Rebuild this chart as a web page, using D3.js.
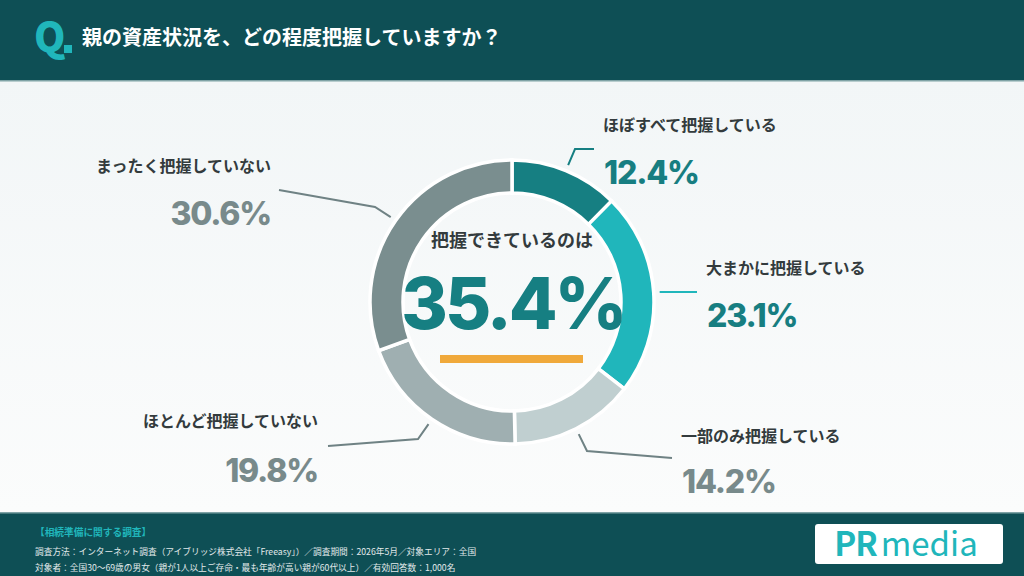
<!DOCTYPE html>
<html>
<head>
<meta charset="utf-8">
<script src="https://cdn.jsdelivr.net/npm/d3@7"></script>
<style>
  html, body { margin:0; padding:0; background:#0e4f55; }
  svg { display:block; }
  text { font-family: "Noto Sans CJK JP", "Noto Sans", sans-serif; }
  .num { font-family: "Inter", "Noto Sans", sans-serif; font-weight:800; }
</style>
</head>
<body>
<svg id="chart" width="1024" height="576"></svg>
<script>
// data
var categories = ["ほぼすべて把握している", "大まかに把握している", "一部のみ把握している", "ほとんど把握していない", "まったく把握していない"]
var values = [12.4, 23.1, 14.2, 19.8, 30.6]
var sliceColors = ["#167f82", "#20b6bb", "#c0cfd0", "#9fafb1", "#7a8e8f"]
var valueColors = ["#177e81", "#177e81", "#788a8b", "#788a8b", "#788a8b"]
var centerLabel = "把握できているのは"
var centerValue = 35.4
var title = "親の資産状況を、どの程度把握していますか？"
var footerLines = [
  "【相続準備に関する調査】",
  "調査方法：インターネット調査（アイブリッジ株式会社「Freeasy」）／調査期間：2026年5月／対象エリア：全国",
  "対象者：全国30〜69歳の男女（親が1人以上ご存命・最も年齢が高い親が60代以上）／有効回答数：1,000名"
]

// label layout: elbow + end of leader, text anchor point
var labelLayout = [
  {elbow:[575,149], end:[594,149], tx:603, ty:125, vy:184, anchor:"start"},
  {elbow:[680,292], end:[697,292], tx:706, ty:268, vy:327, anchor:"start"},
  {elbow:[587,451], end:[672,458], tx:681, ty:436, vy:493, anchor:"start"},
  {elbow:[418,439], end:[328,446], tx:318, ty:421, vy:482, anchor:"end"},
  {elbow:[375,207], end:[279,190], tx:271, ty:166, vy:225, anchor:"end"}
]

var width = 1024, height = 576
var cx = 512, cy = 302
var rOuter = 142, rInner = 109

var svg = d3.select("#chart")

var defs = svg.append("defs")
var grad = defs.append("linearGradient").attr("id","bg").attr("x1",0).attr("y1",0).attr("x2",0).attr("y2",1)
grad.append("stop").attr("offset","0%").attr("stop-color","#f2f6f7")
grad.append("stop").attr("offset","100%").attr("stop-color","#fbfcfc")

// header / body / footer
svg.append("rect").attr("x",0).attr("y",0).attr("width",width).attr("height",80).attr("fill","#0e4f55")
svg.append("rect").attr("x",0).attr("y",80).attr("width",width).attr("height",433).attr("fill","url(#bg)")
svg.append("rect").attr("x",0).attr("y",80).attr("width",width).attr("height",1.5).attr("fill","#7fa3a6")
svg.append("rect").attr("x",0).attr("y",513).attr("width",width).attr("height",63).attr("fill","#0e4f55")
svg.append("rect").attr("x",0).attr("y",512).attr("width",width).attr("height",1.5).attr("fill","#7fa3a6")

svg.append("text")
    .attr("x",34).attr("y",52)
    .attr("font-family","Inter, sans-serif")
    .attr("font-weight",800)
    .attr("font-size",40)
    .attr("fill","#20b6bb")
    .text("Q")
svg.append("rect").attr("x",64).attr("y",45).attr("width",8).attr("height",8).attr("fill","#20b6bb")
svg.append("text")
    .attr("x",82).attr("y",45)
    .attr("font-weight",700)
    .attr("font-size",20)
    .attr("fill","#ffffff")
    .text(title)

// donut
var pie = d3.pie().sort(null).value(function(d){ return d })
var arcs = pie(values)
var arc = d3.arc().innerRadius(rInner).outerRadius(rOuter)

var g = svg.append("g").attr("transform","translate("+cx+","+cy+")")
g.selectAll("path.slice")
    .data(arcs)
  .enter().append("path")
    .classed("slice",true)
    .attr("d", arc)
    .attr("fill", function(d,i){ return sliceColors[i] })
    .attr("stroke","#ffffff")
    .attr("stroke-width",3.5)

// leader lines
var leadR = 148
svg.selectAll("path.leader")
    .data(arcs)
  .enter().append("path")
    .classed("leader",true)
    .attr("d", function(d,i){
      var a = (d.startAngle + d.endAngle)/2
      var p0 = [cx + leadR*Math.sin(a), cy - leadR*Math.cos(a)]
      var L = labelLayout[i]
      return d3.line()([p0, L.elbow, L.end])
    })
    .attr("fill","none")
    .attr("stroke", function(d,i){ return i==1 ? "#20b6bb" : (i==0 ? "#167f82" : "#6f8284") })
    .attr("stroke-width",2)

// labels
svg.selectAll("text.cat")
    .data(categories)
  .enter().append("text")
    .classed("cat",true)
    .attr("x", function(d,i){ return labelLayout[i].tx })
    .attr("y", function(d,i){ return labelLayout[i].ty })
    .attr("dy","0.35em")
    .attr("text-anchor", function(d,i){ return labelLayout[i].anchor })
    .attr("font-size",16)
    .attr("font-weight",700)
    .attr("fill","#333b3d")
    .text(function(d){ return d })

svg.selectAll("text.val")
    .data(values)
  .enter().append("text")
    .classed("val num",true)
    .attr("x", function(d,i){ return labelLayout[i].tx + (labelLayout[i].anchor=="start" ? 1 : 0) })
    .attr("y", function(d,i){ return labelLayout[i].vy })
    .attr("text-anchor", function(d,i){ return labelLayout[i].anchor })
    .attr("font-size",32)
    .attr("letter-spacing",-1.2)
    .attr("fill", function(d,i){ return valueColors[i] })
    .text(function(d){ return d3.format(".1f")(d) + "%" })

// center
svg.append("text")
    .attr("x",cx).attr("y",241)
    .attr("dy","0.35em")
    .attr("text-anchor","middle")
    .attr("font-size",18)
    .attr("font-weight",700)
    .attr("fill","#333b3d")
    .text(centerLabel)
svg.append("text")
    .classed("num",true)
    .attr("x",cx + 1).attr("y",329)
    .attr("text-anchor","middle")
    .attr("font-size",71)
    .attr("letter-spacing",-3)
    .attr("fill","#167f82")
    .text(d3.format(".1f")(centerValue) + "%")
svg.append("rect")
    .attr("x",440).attr("y",355).attr("width",143).attr("height",8)
    .attr("fill","#f0a93b")

// footer
svg.selectAll("text.foot")
    .data(footerLines)
  .enter().append("text")
    .classed("foot",true)
    .attr("x",35)
    .attr("y", function(d,i){ return [533,552,568][i] })
    .attr("dy","0.35em")
    .attr("font-size", function(d,i){ return i==0 ? 9.7 : 8.7 })
    .attr("font-weight", function(d,i){ return i==0 ? 700 : 400 })
    .attr("fill", function(d,i){ return i==0 ? "#20b6bb" : "#e2eaeb" })
    .text(function(d){ return d })

// logo
svg.append("rect")
    .attr("x",815).attr("y",524).attr("width",188).attr("height",40).attr("rx",3)
    .attr("fill","#ffffff")
var logo = svg.append("text")
    .attr("x",906).attr("y",556)
    .attr("text-anchor","middle")
    .attr("font-family","Lato, sans-serif")
    .attr("font-size",33)
    .attr("fill","#20b6bb")
logo.append("tspan").attr("font-weight",700).attr("letter-spacing",-1).text("PR")
logo.append("tspan").attr("font-weight",400).attr("dx",4).text("media")
</script>
</body>
</html>
